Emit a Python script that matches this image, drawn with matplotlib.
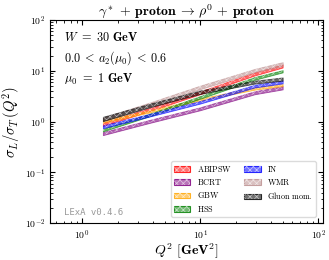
import matplotlib
matplotlib.use("Agg")
import matplotlib.pyplot as plt
from matplotlib.colors import to_rgba
from matplotlib.patches import Patch
from matplotlib.legend_handler import HandlerTuple

plt.rcParams['mathtext.fontset'] = 'cm'
plt.rcParams['font.family'] = ['DejaVu Serif']
plt.rcParams['hatch.linewidth'] = 0.5

q2 = [1.5, 3.8, 10, 29, 50]
models = ["ABIPSW", "BCRT", "GBW", "HSS", "IN", "WMR", "Gluon mom."]
colors = ["red", "purple", "orange", "green", "blue", "rosybrown", "black"]
lo = {
    "ABIPSW": [0.82, 1.63, 3.45, 8.1, 11.6],
    "BCRT": [0.54, 0.95, 1.67, 3.45, 4.3],
    "GBW": [0.95, 1.52, 2.57, 4.25, 5.0],
    "HSS": [0.64, 1.29, 2.82, 6.65, 9.3],
    "IN": [0.74, 1.27, 2.26, 4.7, 5.65],
    "WMR": [1.02, 2.03, 4.35, 9.4, 12.5],
    "Gluon mom.": [1.02, 1.93, 3.5, 5.6, 6.4],
}
hi = {
    "ABIPSW": [0.95, 1.88, 3.95, 9.3, 13.4],
    "BCRT": [0.62, 1.09, 1.91, 3.95, 5.0],
    "GBW": [1.06, 1.68, 2.85, 4.75, 5.5],
    "HSS": [0.72, 1.45, 3.18, 7.55, 10.3],
    "IN": [0.84, 1.43, 2.54, 5.3, 6.4],
    "WMR": [1.2, 2.4, 5.1, 10.9, 14.8],
    "Gluon mom.": [1.24, 2.27, 4.1, 6.4, 7.4],
}

fig = plt.figure(figsize=(3.29, 2.60), dpi=100)
ax = fig.add_axes([0.152, 0.142, 0.830, 0.781])

handles = []
for m, c in zip(models, colors):
    ax.fill_between(q2, lo[m], hi[m], facecolor=to_rgba(c, 0.6),
                    edgecolor=to_rgba(c, 0.6), linewidth=0.6)
    ax.fill_between(q2, lo[m], hi[m], facecolor='none',
                    edgecolor=(1, 1, 1, 0.55), hatch='xxxxx', linewidth=0)
    h1 = Patch(facecolor=to_rgba(c, 0.55), edgecolor=to_rgba(c, 0.8), linewidth=0.8)
    h2 = Patch(facecolor='none', edgecolor=(1, 1, 1, 0.6), hatch='xxxxx', linewidth=0)
    handles.append((h1, h2))

ax.set_xscale('log')
ax.set_yscale('log')
ax.set_xlim(0.535, 110)
ax.set_ylim(1e-2, 1e2)
ax.tick_params(which='both', direction='in', top=True, right=True, labelsize=7)
ax.tick_params(which='major', length=3.5)
ax.tick_params(which='minor', length=1.8)
ax.set_xticks([1, 10, 100])
ax.set_xticklabels([r'$\mathbf{10^{0}}$', r'$\mathbf{10^{1}}$', r'$\mathbf{10^{2}}$'])
ax.set_yticks([1e-2, 1e-1, 1, 10, 100])
ax.set_yticklabels([r'$\mathbf{10^{-2}}$', r'$\mathbf{10^{-1}}$', r'$\mathbf{10^{0}}$',
                    r'$\mathbf{10^{1}}$', r'$\mathbf{10^{2}}$'])

ax.set_title(r'$\gamma^*\,+\,\mathbf{proton}\,\rightarrow\,\rho^0\,+\,\mathbf{proton}$',
             fontsize=10, pad=3)
ax.set_xlabel(r'$Q^2\ \mathbf{[GeV^2]}$', fontsize=10, labelpad=0)
ax.set_ylabel(r'$\sigma_L/\sigma_T\,(Q^2)$', fontsize=10.5, labelpad=2)

fs = 8.8
ax.text(0.05, 0.915, r'$W\ \mathbf{=\ 30\ GeV}$', transform=ax.transAxes,
        fontsize=fs, va='center')
ax.text(0.05, 0.812, r'$\mathbf{0.0}\:<\:a_2(\mu_0)\:<\:\mathbf{0.6}$', transform=ax.transAxes,
        fontsize=fs, va='center')
ax.text(0.05, 0.709, r'$\mu_0\ \mathbf{=\ 1\ GeV}$', transform=ax.transAxes,
        fontsize=fs, va='center')
ax.text(0.05, 0.05, 'LExA v0.4.6', transform=ax.transAxes, fontsize=6.5,
        color='#999999', family='DejaVu Sans Mono', va='center')

labels = [r'$\mathrm{' + m.replace(' ', r'\ ') + '}$' for m in models]
leg = ax.legend(handles, labels, loc='lower right', ncol=2, fontsize=5.9, frameon=True,
                handler_map={tuple: HandlerTuple(ndivide=1, pad=0)},
                handlelength=2.0, handleheight=0.7, columnspacing=1.5,
                labelspacing=0.4, borderpad=0.35, handletextpad=0.8, fancybox=True,
                bbox_to_anchor=(0.988, 0.012))
leg.get_frame().set_edgecolor('lightgray')

fig.savefig('out.png', dpi=100)
